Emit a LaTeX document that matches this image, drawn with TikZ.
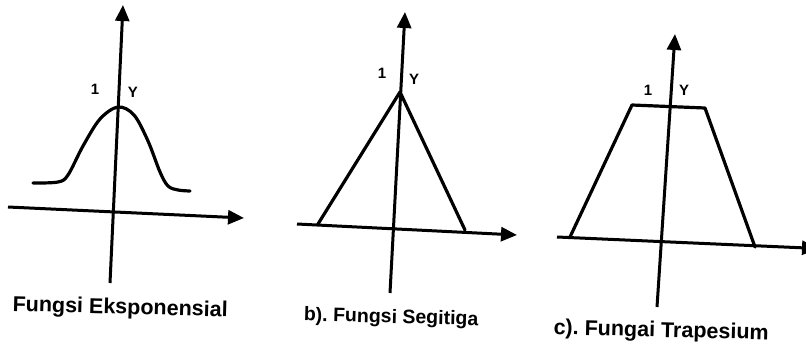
\documentclass[tikz,border=0pt]{standalone}
\usepackage{fontspec}
\setmainfont{Liberation Sans}
\usetikzlibrary{arrows.meta}
\begin{document}
\begin{tikzpicture}[x=1pt,y=-1pt,
 axis/.style={line width=3pt, -{Triangle[length=16pt,width=14pt]}},
 curve/.style={line width=3.2pt, line join=round, line cap=round},
 lbl/.style={font=\bfseries\fontsize{15}{16}\selectfont, inner sep=0pt},
 captext/.style={font=\bfseries\fontsize{21.5}{24}\selectfont, inner sep=0pt, anchor=base, rotate=-1.5}]
\useasboundingbox (0,0) rectangle (806,346);
% ---------- panel a ----------
\coordinate (ay0) at (110,283);
\coordinate (ay1) at (123,5);
\coordinate (ax0) at (8,207);
\coordinate (ax1) at (244,218);
\draw[axis] (ax0) -- (ax1);
\draw[axis] (ay0) -- (ay1);
\draw[curve] plot[smooth, tension=0.55] coordinates {(33,183) (58,182) (68,175) (83,146) (100,119) (118,107) (134,115) (148,141) (160,172) (168,186) (178,190) (190,191)};
\node[lbl] (a1) at (95,89) {1};
\node[lbl] (aY) at (133,92) {Y};
\node[captext] (acap) at (120,314) {Fungsi Eksponensial};
% ---------- panel b ----------
\coordinate (by0) at (390,293);
\coordinate (by1) at (405,12);
\coordinate (bx0) at (297,224);
\coordinate (bx1) at (517,235);
\coordinate (bl) at (318,224);
\coordinate (bp) at (400,92);
\coordinate (br) at (465,230);
\draw[axis] (bx0) -- (bx1);
\draw[axis] (by0) -- (by1);
\draw[curve] (bl) -- (bp) -- (br);
\node[lbl] (b1) at (382,73) {1};
\node[lbl] (bY) at (414,79) {Y};
\node[captext, font=\bfseries\fontsize{19.5}{22}\selectfont] (bcap) at (391,323) {b).\ Fungsi Segitiga};
% ---------- panel c ----------
\coordinate (cy0) at (657,307);
\coordinate (cy1) at (675,34);
\coordinate (cx0) at (557,237);
\coordinate (cx1) at (818,248.5);
\coordinate (cl) at (570,237);
\coordinate (ctl) at (632,105);
\coordinate (ctr) at (705,108);
\coordinate (cr) at (755,247);
\draw[axis] (cx0) -- (cx1);
\draw[axis] (cy0) -- (cy1);
\draw[curve] (cl) -- (ctl) -- (ctr) -- (cr);
\node[lbl] (c1) at (648,90) {1};
\node[lbl] (cY) at (684,90) {Y};
\node[captext] (ccap) at (661,337) {c).\ Fungai Trapesium};
\end{tikzpicture}
\end{document}
